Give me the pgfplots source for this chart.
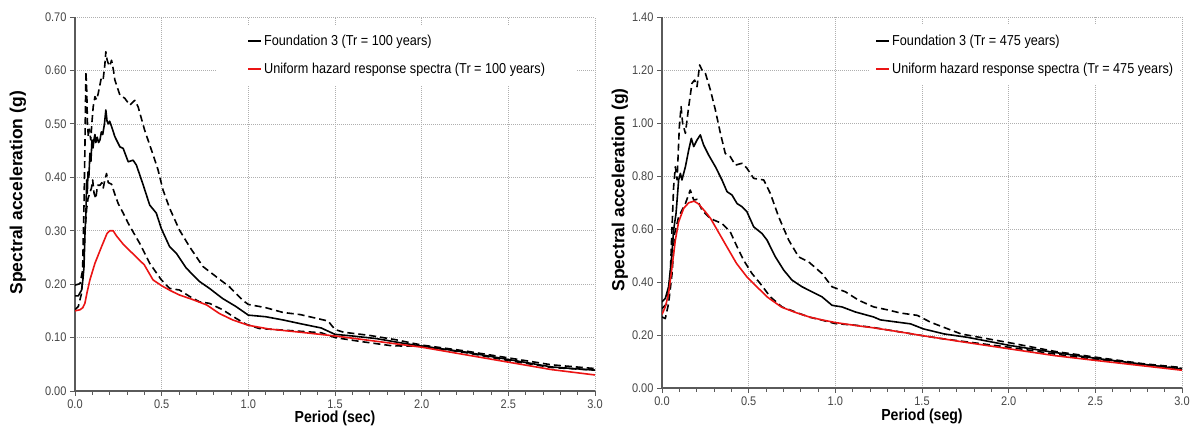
\documentclass[border=0pt]{standalone}
\usepackage{fontspec}
\setmainfont{Liberation Sans}[FakeStretch=0.88]
\newfontfamily\ylfont{Liberation Sans}
\usepackage{pgfplots}
\pgfplotsset{compat=1.18}
\definecolor{gridgray}{RGB}{175,175,175}
\definecolor{ticktext}{RGB}{70,70,70}
\definecolor{axisgray}{RGB}{90,90,90}
\definecolor{uhsred}{RGB}{235,20,20}
\pgfplotsset{
  spec/.style={
    scale only axis, width=520pt,
    xmin=0, xmax=3, ymin=0,
    axis lines*=left,
    axis line style={axisgray, line width=1.4pt},
    xtick pos=left, ytick pos=left,
    xtick={0,0.5,...,3.0},
    minor x tick num=4,
    tick align=outside,
    major tick length=5pt, minor tick length=4pt,
    every tick/.style={axisgray, line width=0.9pt},
    grid=major,
    major grid style={gridgray, line width=0.6pt, dash pattern=on 1pt off 1pt},
    /pgf/number format/assume math mode=true,
    ticklabel style={font=\fontsize{12.5}{13}\selectfont, text=ticktext},
    xticklabel style={/pgf/number format/.cd, fixed, fixed zerofill, precision=1},
    yticklabel style={/pgf/number format/.cd, fixed, fixed zerofill, precision=2},
    ylabel style={font=\ylfont\bfseries\fontsize{17.5}{18}\selectfont, anchor=center},
    xlabel style={font=\bfseries\fontsize{16}{17}\selectfont, anchor=center},
    legend cell align=left,
    legend image code/.code={\draw[#1, line width=2pt] (0pt,0pt) -- (13pt,0pt);},
    every axis plot/.append style={line width=1.6pt, line join=round},
  },
  dsh/.style={black, dash pattern=on 7pt off 4pt, forget plot},
  mn/.style={black},
  uh/.style={uhsred},
}
\begin{document}
\begin{tikzpicture}
\useasboundingbox (0pt,0pt) rectangle (1198pt,430pt);
% ---------------- left panel ----------------
\begin{axis}[spec,
  at={(75pt,39pt)}, anchor=south west, height=374pt,
  ymax=0.7, ytick={0,0.1,...,0.71},
  ylabel={Spectral acceleration (g)}, xlabel={Period (sec)},
  ylabel style={at={(axis description cs:-0.11,0.53)}},
  xlabel style={at={(axis description cs:0.5,-0.072)}},
  legend style={at={(0.273,0.979)}, anchor=north west, draw=none, fill=white,
    font=\fontsize{14.4}{15}\selectfont, row sep=12pt, inner xsep=30pt, inner ysep=8pt},
]
\addplot[dsh] coordinates {(0,0.198)(0.029,0.201)(0.044,0.226)(0.052,0.35)(0.057,0.45)(0.063,0.598)(0.068,0.56)(0.072,0.50)(0.077,0.476)(0.082,0.49)(0.086,0.482)(0.091,0.47)(0.097,0.50)(0.105,0.532)(0.115,0.551)(0.125,0.545)(0.134,0.557)(0.145,0.575)(0.153,0.588)(0.163,0.585)(0.172,0.61)(0.178,0.635)(0.185,0.62)(0.192,0.613)(0.2,0.608)(0.211,0.619)(0.222,0.60)(0.230,0.582)(0.259,0.554)(0.287,0.548)(0.316,0.535)(0.345,0.544)(0.364,0.532)(0.402,0.488)(0.441,0.451)(0.479,0.414)(0.508,0.376)(0.546,0.342)(0.603,0.301)(0.661,0.270)(0.738,0.233)(0.814,0.214)(0.891,0.195)(0.967,0.170)(1.0,0.162)(1.1,0.156)(1.2,0.147)(1.3,0.143)(1.46,0.131)(1.5,0.115)(1.55,0.110)(1.7,0.104)(1.85,0.096)(2.0,0.086)(2.25,0.075)(2.5,0.062)(2.75,0.049)(3.0,0.042)};
\addplot[dsh] coordinates {(0,0.152)(0.019,0.158)(0.038,0.183)(0.048,0.233)(0.058,0.30)(0.067,0.34)(0.075,0.36)(0.085,0.37)(0.095,0.38)(0.102,0.395)(0.110,0.37)(0.120,0.36)(0.130,0.385)(0.144,0.385)(0.155,0.39)(0.163,0.38)(0.172,0.395)(0.182,0.407)(0.192,0.39)(0.211,0.387)(0.230,0.368)(0.249,0.351)(0.278,0.333)(0.307,0.314)(0.340,0.295)(0.374,0.276)(0.431,0.239)(0.498,0.208)(0.546,0.192)(0.603,0.189)(0.661,0.177)(0.718,0.167)(0.776,0.164)(0.852,0.152)(0.929,0.136)(0.987,0.125)(1.063,0.117)(1.2,0.114)(1.42,0.109)(1.5,0.100)(1.64,0.093)(1.82,0.085)(1.9,0.084)(2.0,0.084)(2.25,0.072)(2.5,0.057)(2.75,0.044)(3.0,0.039)};
\addplot[mn] coordinates {(0,0.178)(0.019,0.178)(0.038,0.189)(0.046,0.21)(0.052,0.233)(0.058,0.30)(0.063,0.33)(0.067,0.395)(0.071,0.37)(0.075,0.41)(0.080,0.40)(0.086,0.445)(0.092,0.43)(0.098,0.47)(0.104,0.455)(0.109,0.47)(0.115,0.48)(0.120,0.465)(0.128,0.475)(0.136,0.465)(0.144,0.47)(0.152,0.485)(0.160,0.48)(0.170,0.50)(0.178,0.526)(0.185,0.505)(0.192,0.50)(0.200,0.505)(0.211,0.495)(0.230,0.476)(0.259,0.457)(0.278,0.454)(0.307,0.429)(0.335,0.432)(0.354,0.423)(0.393,0.386)(0.431,0.348)(0.469,0.333)(0.498,0.304)(0.546,0.270)(0.584,0.258)(0.642,0.230)(0.718,0.205)(0.776,0.192)(0.852,0.173)(0.929,0.158)(1.0,0.142)(1.1,0.139)(1.2,0.133)(1.3,0.126)(1.42,0.118)(1.5,0.106)(1.6,0.103)(1.74,0.098)(1.9,0.089)(2.0,0.084)(2.25,0.073)(2.5,0.059)(2.75,0.045)(3.0,0.039)};
\addlegendentry{Foundation 3 (Tr = 100 years)}
\addplot[uh] coordinates {(0,0.150)(0.029,0.152)(0.045,0.156)(0.057,0.164)(0.070,0.185)(0.086,0.208)(0.115,0.239)(0.153,0.270)(0.185,0.295)(0.201,0.300)(0.220,0.300)(0.240,0.290)(0.28,0.274)(0.34,0.255)(0.40,0.236)(0.45,0.208)(0.50,0.197)(0.55,0.188)(0.60,0.180)(0.68,0.171)(0.76,0.161)(0.833,0.145)(0.910,0.133)(1.0,0.123)(1.12,0.116)(1.3,0.110)(1.5,0.103)(1.74,0.093)(2.0,0.082)(2.25,0.068)(2.5,0.054)(2.75,0.040)(3.0,0.030)};
\addlegendentry{Uniform hazard response spectra (Tr = 100 years)}
\end{axis}
% ---------------- right panel ----------------
\begin{axis}[spec,
  at={(662pt,42pt)}, anchor=south west, height=371pt,
  ymax=1.4, ytick={0,0.2,...,1.41},
  ylabel={Spectral acceleration (g)}, xlabel={Period (seg)},
  ylabel style={at={(axis description cs:-0.081,0.534)}},
  xlabel style={at={(axis description cs:0.5,-0.0755)}},
  legend style={at={(0.40,0.979)}, anchor=north west, draw=none, fill=white,
    font=\fontsize{14.4}{15}\selectfont, row sep=12pt, inner xsep=5pt, inner ysep=8pt},
]
\addplot[dsh] coordinates {(0,0.300)(0.029,0.319)(0.048,0.432)(0.058,0.608)(0.067,0.759)(0.077,0.835)(0.087,0.785)(0.1,0.986)(0.11,1.062)(0.119,0.999)(0.135,0.961)(0.154,1.062)(0.173,1.150)(0.188,1.162)(0.202,1.137)(0.217,1.219)(0.231,1.2)(0.25,1.188)(0.279,1.125)(0.308,1.049)(0.337,0.961)(0.365,0.885)(0.394,0.873)(0.423,0.841)(0.462,0.848)(0.49,0.829)(0.529,0.791)(0.587,0.785)(0.625,0.734)(0.673,0.646)(0.731,0.558)(0.788,0.495)(0.846,0.476)(0.923,0.432)(0.981,0.382)(1.058,0.363)(1.135,0.331)(1.221,0.306)(1.30,0.295)(1.376,0.283)(1.473,0.274)(1.55,0.248)(1.725,0.204)(2.011,0.170)(2.267,0.138)(2.515,0.115)(2.771,0.092)(3.0,0.077)};
\addplot[dsh] coordinates {(0,0.268)(0.019,0.262)(0.038,0.319)(0.058,0.432)(0.073,0.583)(0.096,0.646)(0.135,0.696)(0.163,0.747)(0.183,0.709)(0.202,0.712)(0.231,0.671)(0.269,0.646)(0.298,0.634)(0.346,0.621)(0.394,0.589)(0.433,0.533)(0.471,0.482)(0.519,0.432)(0.567,0.394)(0.625,0.344)(0.692,0.306)(0.769,0.287)(0.846,0.268)(0.923,0.256)(1.0,0.243)(1.115,0.237)(1.221,0.228)(1.508,0.197)(1.628,0.185)(2.011,0.153)(2.267,0.128)(2.515,0.106)(2.771,0.088)(3.0,0.074)};
\addplot[mn] coordinates {(0,0.325)(0.019,0.338)(0.038,0.382)(0.054,0.482)(0.067,0.596)(0.081,0.659)(0.096,0.785)(0.106,0.81)(0.115,0.785)(0.135,0.835)(0.154,0.898)(0.169,0.942)(0.183,0.911)(0.202,0.936)(0.221,0.955)(0.240,0.917)(0.269,0.879)(0.308,0.835)(0.346,0.785)(0.375,0.741)(0.404,0.728)(0.433,0.696)(0.462,0.684)(0.490,0.665)(0.529,0.608)(0.577,0.583)(0.606,0.558)(0.654,0.495)(0.702,0.445)(0.75,0.407)(0.808,0.382)(0.865,0.363)(0.923,0.344)(0.981,0.312)(1.038,0.306)(1.115,0.287)(1.221,0.268)(1.26,0.257)(1.434,0.242)(1.508,0.223)(1.628,0.204)(1.764,0.191)(2.011,0.160)(2.267,0.134)(2.515,0.111)(2.771,0.090)(3.0,0.071)};
\addlegendentry{Foundation 3 (Tr = 475 years)}
\addplot[uh] coordinates {(0,0.278)(0.019,0.306)(0.038,0.356)(0.058,0.457)(0.077,0.558)(0.096,0.627)(0.125,0.678)(0.154,0.699)(0.185,0.705)(0.21,0.695)(0.25,0.665)(0.28,0.640)(0.317,0.598)(0.375,0.532)(0.43,0.470)(0.49,0.419)(0.55,0.380)(0.61,0.342)(0.69,0.305)(0.77,0.285)(0.85,0.268)(0.923,0.257)(1.0,0.247)(1.115,0.236)(1.221,0.227)(1.35,0.214)(1.508,0.197)(1.725,0.175)(2.011,0.147)(2.267,0.122)(2.515,0.103)(2.771,0.084)(3.0,0.067)};
\addlegendentry{Uniform hazard response spectra (Tr = 475 years)}
\end{axis}
\end{tikzpicture}
\end{document}
